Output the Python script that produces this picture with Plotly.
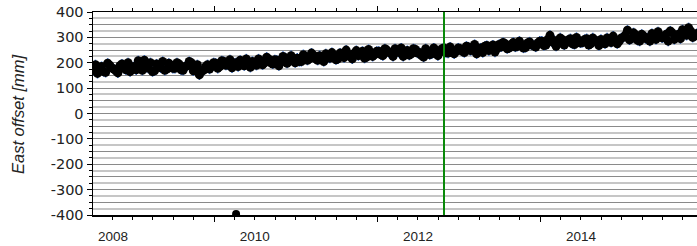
import plotly.graph_objects as go

# ---- data ----
years = [
    2008.52, 2008.57, 2008.62, 2008.67, 2008.72, 2008.77, 2008.82, 2008.87, 2008.92, 2008.97,
    2009.02, 2009.07, 2009.12, 2009.17, 2009.22, 2009.27, 2009.32, 2009.37, 2009.42, 2009.47,
    2009.52, 2009.57, 2009.62, 2009.67, 2009.72, 2009.77, 2009.82, 2009.87, 2009.92, 2009.97,
    2010.02, 2010.07, 2010.12, 2010.17, 2010.22, 2010.27, 2010.32, 2010.37, 2010.42, 2010.47,
    2010.52, 2010.57, 2010.62, 2010.67, 2010.72, 2010.77, 2010.82, 2010.87, 2010.92, 2010.97,
    2011.02, 2011.07, 2011.12, 2011.17, 2011.22, 2011.27, 2011.32, 2011.37, 2011.42, 2011.47,
    2011.52, 2011.57, 2011.62, 2011.67, 2011.72, 2011.77, 2011.82, 2011.87, 2011.92, 2011.97,
    2012.02, 2012.07, 2012.12, 2012.17, 2012.22, 2012.27, 2012.32, 2012.37, 2012.42, 2012.47,
    2012.52, 2012.57, 2012.62, 2012.67, 2012.72, 2012.77, 2012.82, 2012.87, 2012.92, 2012.97,
    2013.02, 2013.07, 2013.12, 2013.17, 2013.22, 2013.27, 2013.32, 2013.37, 2013.42, 2013.47,
    2013.52, 2013.57, 2013.62, 2013.67, 2013.72, 2013.77, 2013.82, 2013.87, 2013.92, 2013.97,
    2014.02, 2014.07, 2014.12, 2014.17, 2014.22, 2014.27, 2014.32, 2014.37, 2014.42, 2014.47,
    2014.52, 2014.57, 2014.62, 2014.67, 2014.72, 2014.77, 2014.82, 2014.87, 2014.92, 2014.97,
    2015.02, 2015.07, 2015.12, 2015.17, 2015.22, 2015.27, 2015.32, 2015.37, 2015.42, 2015.47,
    2015.52, 2015.57, 2015.62, 2015.67, 2015.72, 2015.77, 2015.82, 2015.87, 2015.92,
]
east_mm = [
    170, 158, 185, 162, 190, 175, 160, 195, 172, 165,
    185, 208, 170, 182, 200, 168, 188, 205, 175, 190,
    178, 195, 170, 188, 200, 180, 152, 170, 192, 185,
    198, 185, 205, 192, 180, 200, 210, 188, 195, 205,
    190, 208, 200, 215, 195, 210, 202, 220, 205, 212,
    218, 205, 225, 215, 230, 210, 222, 235, 218, 228,
    215, 232, 250, 225, 238, 228, 245, 222, 240, 232,
    245, 228, 250, 238, 255, 240, 225, 248, 235, 252,
    240, 222, 245, 235, 250, 242, 258, 238, 250, 245,
    255, 240, 262, 250, 235, 258, 265, 248, 270, 255,
    262, 275, 258, 280, 265, 272, 260, 282, 268, 278,
    285, 270, 308, 288, 275, 292, 280, 295, 272, 288,
    280, 295, 275, 290, 268, 285, 298, 280, 292, 285,
    300, 328, 295, 310, 285, 305, 298, 315, 292, 308,
    300, 285, 318, 305, 295, 322, 338, 300, 315,
]
years_b = [
    2008.545, 2008.595, 2008.645, 2008.695, 2008.745, 2008.795, 2008.845, 2008.895, 2008.945, 2008.995,
    2009.045, 2009.095, 2009.145, 2009.195, 2009.245, 2009.295, 2009.345, 2009.395, 2009.445, 2009.495,
    2009.545, 2009.595, 2009.645, 2009.695, 2009.745, 2009.795, 2009.845, 2009.895, 2009.945, 2009.995,
    2010.045, 2010.095, 2010.145, 2010.195, 2010.245, 2010.295, 2010.345, 2010.395, 2010.445, 2010.495,
    2010.545, 2010.595, 2010.645, 2010.695, 2010.745, 2010.795, 2010.845, 2010.895, 2010.945, 2010.995,
    2011.045, 2011.095, 2011.145, 2011.195, 2011.245, 2011.295, 2011.345, 2011.395, 2011.445, 2011.495,
    2011.545, 2011.595, 2011.645, 2011.695, 2011.745, 2011.795, 2011.845, 2011.895, 2011.945, 2011.995,
    2012.045, 2012.095, 2012.145, 2012.195, 2012.245, 2012.295, 2012.345, 2012.395, 2012.445, 2012.495,
    2012.545, 2012.595, 2012.645, 2012.695, 2012.745, 2012.795, 2012.845, 2012.895, 2012.945, 2012.995,
    2013.045, 2013.095, 2013.145, 2013.195, 2013.245, 2013.295, 2013.345, 2013.395, 2013.445, 2013.495,
    2013.545, 2013.595, 2013.645, 2013.695, 2013.745, 2013.795, 2013.845, 2013.895, 2013.945, 2013.995,
    2014.045, 2014.095, 2014.145, 2014.195, 2014.245, 2014.295, 2014.345, 2014.395, 2014.445, 2014.495,
    2014.545, 2014.595, 2014.645, 2014.695, 2014.745, 2014.795, 2014.845, 2014.895, 2014.945, 2014.995,
    2015.045, 2015.095, 2015.145, 2015.195, 2015.245, 2015.295, 2015.345, 2015.395, 2015.445, 2015.495,
    2015.545, 2015.595, 2015.645, 2015.695, 2015.745, 2015.795, 2015.845, 2015.895,
]
east_mm_b = [
    192, 175, 165, 198, 180, 168, 188, 178, 200, 182,
    172, 195, 210, 178, 165, 195, 180, 170, 198, 178,
    200, 172, 185, 205, 168, 192, 165, 185, 175, 200,
    178, 208, 190, 212, 198, 185, 195, 215, 182, 198,
    215, 192, 222, 200, 212, 188, 225, 198, 228, 200,
    205, 232, 210, 238, 215, 228, 205, 220, 240, 212,
    238, 220, 235, 215, 248, 235, 218, 252, 225, 245,
    232, 255, 240, 225, 245, 258, 238, 230, 255, 238,
    228, 255, 232, 258, 228, 255, 240, 262, 235, 258,
    245, 265, 248, 272, 255, 240, 268, 255, 242, 272,
    280, 255, 272, 262, 285, 258, 278, 270, 262, 285,
    268, 292, 282, 265, 298, 270, 290, 275, 300, 278,
    292, 270, 298, 282, 292, 275, 288, 305, 275, 298,
    310, 290, 318, 288, 312, 295, 285, 302, 322, 298,
    312, 325, 292, 312, 330, 308, 325, 305,
]

outlier_years = [2010.27]
outlier_mm = [-396]

event_years = [2012.82]

x_label_pos = [2008.76, 2010.5, 2012.5, 2014.5]
x_label_text = ["2008", "2010", "2012", "2014"]
y_tick_vals = [400, 300, 200, 100, 0, -100, -200, -300, -400]
y_tick_text = ["400", "300", "200", "100", "0", "-100", "-200", "-300", "-400"]

x_range = [2008.515, 2015.923]
y_range = [-400, 400]

fig = go.Figure()

# invisible helper trace so the overlay axes (labels, grid) get drawn
fig.add_trace(go.Scatter(
    x=x_range, y=y_range, mode="markers", marker=dict(opacity=0),
    xaxis="x2", yaxis="y2", showlegend=False, hoverinfo="skip",
))

all_years = years + years_b
all_mm = east_mm + east_mm_b
err = [20] * len(all_mm)

fig.add_trace(go.Scatter(
    x=all_years, y=all_mm, mode="markers",
    marker=dict(color="black", size=9),
    error_y=dict(type="data", array=err, color="#2a63c4", thickness=1.5, width=0),
    xaxis="x", yaxis="y", showlegend=False,
))
fig.add_trace(go.Scatter(
    x=outlier_years, y=outlier_mm, mode="markers",
    marker=dict(color="black", size=8),
    xaxis="x", yaxis="y", showlegend=False,
))
for ev in event_years:
    fig.add_trace(go.Scatter(
        x=[ev, ev], y=y_range, mode="lines",
        line=dict(color="#0a8a0a", width=2),
        xaxis="x", yaxis="y", showlegend=False,
    ))

fig.update_layout(
    width=697, height=246,
    margin=dict(l=93, r=0, t=12, b=31),
    paper_bgcolor="white", plot_bgcolor="white",
    font=dict(family="Liberation Sans, Arial, sans-serif", color="#222"),
    hovermode=False,
    xaxis=dict(
        range=x_range, showgrid=False, zeroline=False,
        showline=True, linecolor="black", linewidth=1.5, mirror="allticks",
        ticks="outside", ticklen=5, tickwidth=1, tickcolor="black",
        tick0=2010, dtick=2, showticklabels=False,
        minor=dict(ticks="outside", ticklen=3, tickwidth=1, tickcolor="black",
                   dtick=0.25, tick0=2010, showgrid=False),
    ),
    xaxis2=dict(
        range=x_range, overlaying="x", anchor="y2", side="bottom",
        showgrid=False, zeroline=False, showline=False, ticks="",
        tickmode="array", tickvals=x_label_pos, ticktext=x_label_text,
        tickfont=dict(size=13.5, family="Liberation Sans, Arial, sans-serif", color="#222"),
        ticklabelstandoff=11, ticklabeloverflow="allow",
    ),
    yaxis=dict(
        range=y_range, showgrid=False, zeroline=False,
        showline=True, linecolor="black", linewidth=1.5, mirror=False,
        ticks="outside", ticklen=5, tickwidth=1, tickcolor="black",
        tickmode="array", tickvals=y_tick_vals, ticktext=y_tick_text,
        tickfont=dict(size=14.5, family="DejaVu Sans, sans-serif", color="#222"),
        ticklabeloverflow="allow",
        minor=dict(ticks="outside", ticklen=3, tickwidth=1, tickcolor="black",
                   dtick=25, tick0=0, showgrid=False),
    ),
    yaxis2=dict(
        range=y_range, overlaying="y", anchor="x2", side="left",
        showline=False, zeroline=False, ticks="", showticklabels=False,
        showgrid=True, gridcolor="#8a8a8a", gridwidth=1, dtick=50, tick0=0,
        minor=dict(showgrid=True, gridcolor="#c6c6c6", gridwidth=2, dtick=25, tick0=0, ticks=""),
    ),
    annotations=[dict(
        text="<i>East offset [mm]</i>", xref="paper", yref="paper",
        x=-0.125, y=0.495, xanchor="center", yanchor="middle",
        textangle=-90, showarrow=False,
        font=dict(size=16.5, family="Liberation Sans, Arial, sans-serif", color="#222"),
    )],
)

# remove the browser's default 8px body margin so the figure sits at (0, 0)
fig.write_html(
    "out.html",
    config={"displayModeBar": False, "staticPlot": True},
    post_script="document.body.style.margin='0';document.body.style.overflow='hidden';",
)
